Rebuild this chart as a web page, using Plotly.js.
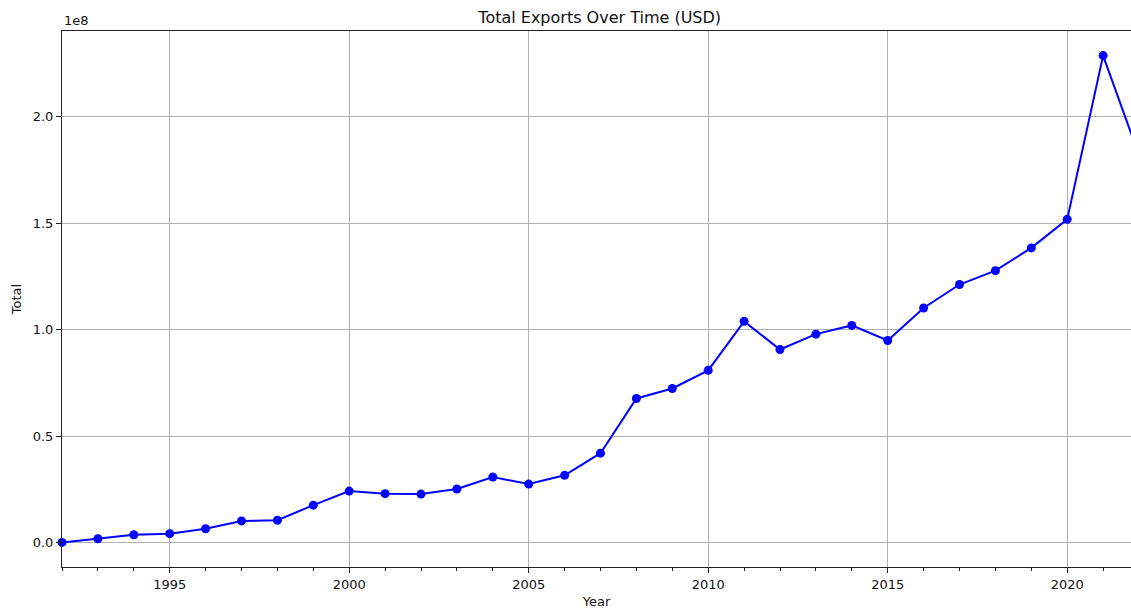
<!DOCTYPE html>
<html>
<head>
<meta charset="utf-8">
<script src="https://cdn.plot.ly/plotly-3.0.1.min.js"></script>
<style>
html,body{margin:0;padding:0;overflow:hidden;background:#fff;}
#chart{width:1131px;height:611px;}
</style>
</head>
<body>
<div id="chart"></div>
<script>
const years = [1992,1993,1994,1995,1996,1997,1998,1999,2000,2001,2002,2003,2004,2005,2006,2007,2008,2009,2010,2011,2012,2013,2014,2015,2016,2017,2018,2019,2020,2021,2022];
const totals = [0.2e6,1.9e6,3.8e6,4.3e6,6.6e6,10.3e6,10.6e6,17.7e6,24.3e6,23.1e6,22.9e6,25.3e6,30.9e6,27.6e6,31.7e6,42.1e6,67.8e6,72.5e6,81.0e6,104.0e6,90.8e6,98.0e6,102.1e6,95.0e6,110.3e6,121.3e6,127.8e6,138.5e6,151.9e6,228.8e6,182.0e6];
const yTickVals = [0,0.5e8,1.0e8,1.5e8,2.0e8];
const yTickText = ['0.0','0.5','1.0','1.5','2.0'];
const xTickVals = [1995,2000,2005,2010,2015,2020];

const font = {family:'DejaVu Sans, sans-serif', size:13, color:'#111'};

const trace = {
  x: years, y: totals, type:'scatter', mode:'lines+markers',
  line:{color:'#0000ff', width:2},
  marker:{color:'#0000ff', size:9},
  cliponaxis:false,
  hoverinfo:'x+y'
};

const layout = {
  width:1131, height:611,
  margin:{l:62, r:0, t:31, b:44},
  paper_bgcolor:'#fff', plot_bgcolor:'#fff',
  font: font,
  showlegend:false,
  title:{text:'Total Exports Over Time (USD)', font:{family:'DejaVu Sans, sans-serif', size:16, color:'#111'}, x:0.503, xref:'paper', xanchor:'center', y:0.972, yref:'container', yanchor:'middle'},
  xaxis:{
    range:[1992, 1992 + (1131-62)/35.9],
    tickvals:xTickVals, ticktext:xTickVals.map(String),
    ticks:'outside', ticklen:5, tickwidth:1, tickcolor:'#222',
    showline:true, linecolor:'#222', linewidth:1, mirror:true,
    showgrid:true, gridcolor:'#b0b0b0', gridwidth:1,
    zeroline:false,
    minor:{dtick:1, tick0:1992, ticks:'outside', ticklen:3, tickcolor:'#222', tickwidth:1, showgrid:false},
    title:{text:'Year', font:{family:'DejaVu Sans, sans-serif', size:13, color:'#111'}, standoff:6},
    tickfont:{family:'DejaVu Sans, sans-serif', size:13, color:'#111'},
    automargin:false
  },
  yaxis:{
    range:[-0.1134e8, 2.4035e8],
    tickvals:yTickVals, ticktext:yTickText,
    ticks:'outside', ticklen:5, tickwidth:1, tickcolor:'#222',
    showline:true, linecolor:'#222', linewidth:1, mirror:false,
    showgrid:true, gridcolor:'#b0b0b0', gridwidth:1,
    zeroline:false,
    title:{text:'Total', font:{family:'DejaVu Sans, sans-serif', size:13, color:'#111'}, standoff:8},
    tickfont:{family:'DejaVu Sans, sans-serif', size:13, color:'#111'},
    automargin:false
  },
  annotations:[{
    text:'1e8', xref:'paper', yref:'paper', x:0, y:1, xanchor:'left', yanchor:'bottom',
    showarrow:false, font:{family:'DejaVu Sans, sans-serif', size:13, color:'#111'}, yshift:1
  }]
};

Plotly.newPlot('chart', [trace], layout, {displayModeBar:false});
</script>
</body>
</html>
